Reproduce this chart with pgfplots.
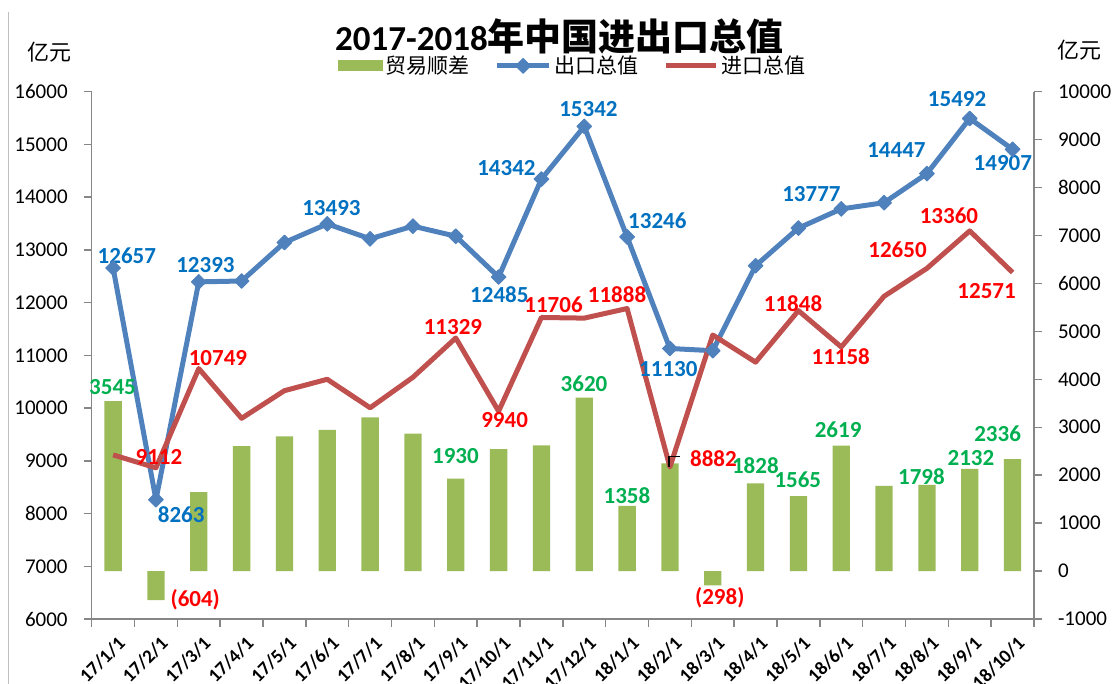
\documentclass[border=0pt]{standalone}
\usepackage{fontspec}
\setmainfont{Carlito}
\newfontfamily\cjk{Noto Sans CJK SC}
\usepackage{pgfplots}
\pgfplotsset{compat=1.18}

\definecolor{barcol}{HTML}{9BBB59}
\definecolor{expcol}{HTML}{4F81BD}
\definecolor{impcol}{HTML}{C0504D}
\definecolor{explab}{HTML}{0070C0}
\definecolor{implab}{HTML}{FF0000}
\definecolor{ballab}{HTML}{00B050}
\definecolor{axisgray}{HTML}{868686}

\pgfplotsset{
  chartbase/.style={
    at={(45.85pt,32.5pt)}, anchor=south west,
    scale only axis, width=471.15pt, height=263.65pt,
    xmin=-0.5, xmax=21.5,
    scaled y ticks=false,
    axis line style={draw=axisgray, line width=0.7pt, -},
    tick style={draw=axisgray, line width=0.7pt},
    tick align=outside, major tick length=4pt,
    yticklabel style={font=\fontsize{10.5}{12}\selectfont, text=black},
  },
  explegend/.style={legend image code/.code={%
    \draw[mark repeat=2, mark phase=2, ##1] plot coordinates {(0pt,0pt) (13pt,0pt) (26pt,0pt)};}},
  implegend/.style={legend image code/.code={%
    \draw[##1] (0pt,0pt) -- (25pt,0pt);}},
}
\tikzset{
  lab/.style={font=\bfseries\fontsize{11.5}{12}\selectfont, inner sep=0pt},
}

\begin{document}
\begin{tikzpicture}
\path[use as bounding box] (0,0) rectangle (557.5pt,342pt);
\draw[gray!50, line width=0.5pt] (4.1pt,0) -- (4.1pt,336pt);

% trade balance (right axis)
\begin{axis}[
  chartbase,
  ymin=-1000, ymax=10000,
  axis x line=none,
  axis y line*=right,
  ytick={-1000,0,1000,2000,3000,4000,5000,6000,7000,8000,9000,10000},
  yticklabels={-1000,0,1000,2000,3000,4000,5000,6000,7000,8000,9000,10000},
  yticklabel style={xshift=4.5pt},
]
\addplot[ybar, bar width=8.65pt, fill=barcol, draw=none] coordinates {
  (0,3545) (1,-604) (2,1644) (3,2604) (4,2810) (5,2947) (6,3205) (7,2866)
  (8,1930) (9,2545) (10,2624) (11,3620) (12,1358) (13,2248) (14,-298)
  (15,1828) (16,1565) (17,2619) (18,1775) (19,1798) (20,2132) (21,2336)
};
\end{axis}

% exports and imports (left axis)
\begin{axis}[
  chartbase,
  clip=false,
  ymin=6000, ymax=16000,
  axis x line*=bottom,
  axis y line*=left,
  ytick={6000,7000,8000,9000,10000,11000,12000,13000,14000,15000,16000},
  yticklabels={6000,7000,8000,9000,10000,11000,12000,13000,14000,15000,16000},
  yticklabel style={xshift=-4.5pt},
  xtick={-0.5,0.5,...,21.5},
  x tick label as interval,
  xticklabels={17/1/1,17/2/1,17/3/1,17/4/1,17/5/1,17/6/1,17/7/1,17/8/1,17/9/1,17/10/1,17/11/1,17/12/1,
               18/1/1,18/2/1,18/3/1,18/4/1,18/5/1,18/6/1,18/7/1,18/8/1,18/9/1,18/10/1},
  xticklabel style={rotate=45, anchor=north east, font=\bfseries\fontsize{9.5}{11}\selectfont,
    xshift=-0.5pt, yshift=-3pt, inner sep=1pt},
  legend columns=3,
  legend style={at={(rel axis cs:0.511,1.049)}, anchor=center, draw=none, fill=none,
    font=\cjk\fontsize{10.5}{12}\selectfont,
    /tikz/every even column/.append style={column sep=11pt},
    nodes={inner sep=1.5pt}},
]
\addlegendimage{legend image code/.code={\fill[barcol] (0pt,-2.5pt) rectangle (22pt,2.5pt);}}
\addlegendentry{贸易顺差}

\addplot[expcol, line width=2.5pt, line join=round, mark=square*, mark size=2.6pt,
  mark options={rotate=45, solid, fill=expcol, draw=expcol, line width=0.5pt},
  explegend]
  coordinates {
  (0,12657) (1,8263) (2,12393) (3,12410) (4,13140) (5,13493) (6,13210) (7,13450)
  (8,13259) (9,12485) (10,14342) (11,15342) (12,13246) (13,11130) (14,11088)
  (15,12699) (16,13413) (17,13777) (18,13895) (19,14447) (20,15492) (21,14907)
};
\addlegendentry{出口总值}

\addplot[impcol, line width=2.5pt, line join=round, implegend]
  coordinates {
  (0,9112) (1,8867) (2,10749) (3,9806) (4,10330) (5,10546) (6,10005) (7,10584)
  (8,11329) (9,9940) (10,11718) (11,11706) (12,11888) (13,8882) (14,11386)
  (15,10871) (16,11848) (17,11158) (18,12120) (19,12650) (20,13360) (21,12571)
};
\addlegendentry{进口总值}

% export labels
\node[lab, text=explab] at (axis cs:0.32,12884) {12657};
\node[lab, text=explab] at (axis cs:1.59,7985) {8263};
\node[lab, text=explab] at (axis cs:2.155,12713) {12393};
\node[lab, text=explab] at (axis cs:5.097,13789) {13493};
\node[lab, text=explab] at (axis cs:9.183,14559) {14342};
\node[lab, text=explab] at (axis cs:9.017,12144) {12485};
\node[lab, text=explab] at (axis cs:11.097,15666) {15342};
\node[lab, text=explab] at (axis cs:12.706,13554) {13246};
\node[lab, text=explab] at (axis cs:12.963,10735) {11130};
\node[lab, text=explab] at (axis cs:16.304,14060) {13777};
\node[lab, text=explab] at (axis cs:18.288,14894) {14447};
\node[lab, text=explab] at (axis cs:19.704,15856) {15492};
\node[lab, text=explab] at (axis cs:20.773,14642) {14907};

% import labels
\node[lab, text=implab] at (axis cs:1.069,9078) {9112};
\node[lab, text=implab] at (axis cs:2.447,10944) {10749};
\node[lab, text=implab] at (axis cs:7.934,11543) {11329};
\node[lab, text=implab] at (axis cs:9.141,9774) {9940};
\node[lab, text=implab] at (axis cs:10.283,11955) {11706};
\node[lab, text=implab] at (axis cs:11.765,12144) {11888};
\node[lab, text=implab] at (axis cs:14.016,9047) {8882};
\node[lab, text=implab] at (axis cs:15.874,11987) {11848};
\node[lab, text=implab] at (axis cs:16.988,10974) {11158};
\node[lab, text=implab] at (axis cs:18.314,13011) {12650};
\node[lab, text=implab] at (axis cs:19.514,13643) {13360};
\node[lab, text=implab] at (axis cs:20.394,12226) {12571};
\node[lab, text=implab] at (axis cs:1.917,6360) {(604)};
\node[lab, text=implab] at (axis cs:14.163,6411) {(298)};

% balance labels
\node[lab, text=ballab] at (axis cs:-0.014,10405) {3545};
\node[lab, text=ballab] at (axis cs:7.992,9097) {1930};
\node[lab, text=ballab] at (axis cs:10.995,10470) {3620};
\node[lab, text=ballab] at (axis cs:11.996,8332) {1358};
\node[lab, text=ballab] at (axis cs:14.994,8901) {1828};
\node[lab, text=ballab] at (axis cs:15.986,8649) {1565};
\node[lab, text=ballab] at (axis cs:16.927,9597) {2619};
\node[lab, text=ballab] at (axis cs:18.872,8698) {1798};
\node[lab, text=ballab] at (axis cs:20.028,9047) {2132};
\node[lab, text=ballab] at (axis cs:20.651,9521) {2336};

\draw[black, line width=0.7pt] (axis cs:12.98,8888) -- (axis cs:12.98,9078) -- (axis cs:13.245,9078);
\end{axis}

\node at (279.75pt,323.65pt) {\fontsize{17.5}{20}\selectfont\bfseries 2017-2018{\cjk\fontsize{18.5}{20}\selectfont 年中国进出口总值}};
\node at (24.5pt,315.85pt) {\cjk\fontsize{11}{12}\selectfont 亿元};
\node at (539.5pt,317pt) {\cjk\fontsize{11}{12}\selectfont 亿元};
\end{tikzpicture}
\end{document}
